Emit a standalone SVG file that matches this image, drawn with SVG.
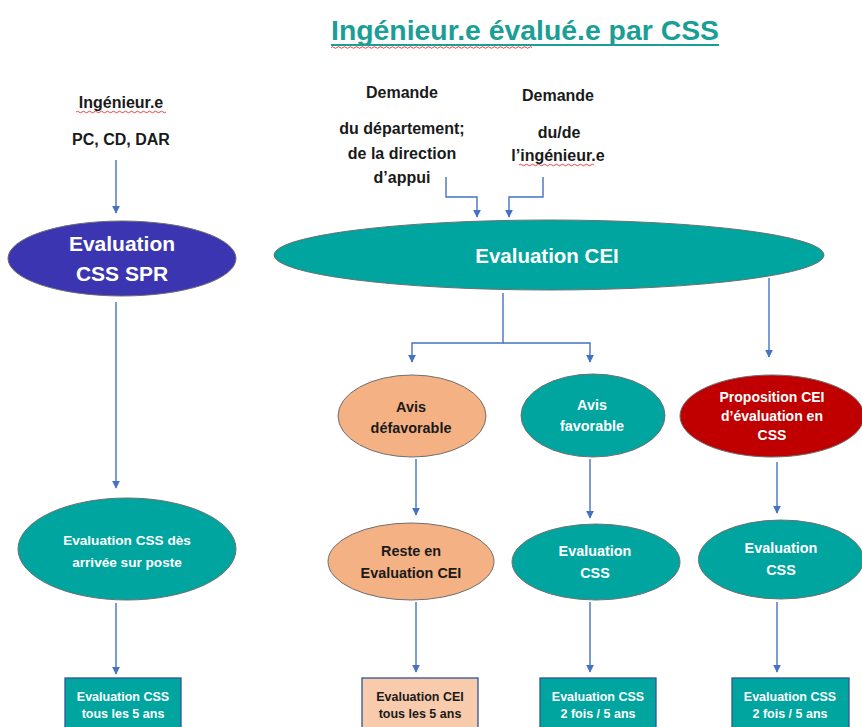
<svg xmlns="http://www.w3.org/2000/svg" width="862" height="727" viewBox="0 0 862 727">
<defs>
<style>
text{font-family:"Liberation Sans",Arial,sans-serif;font-weight:bold;text-anchor:middle}
.lbl{font-size:16px;fill:#1a1a1a}
.w{fill:#ffffff}
.d{fill:#1a1a1a}
.teal{fill:#00a59f;stroke:#6f6f6f;stroke-width:1}
.purple{fill:#3b35b2;stroke:#6f6f6f;stroke-width:1}
.orange{fill:#f4b183;stroke:#6f6f6f;stroke-width:1}
.red{fill:#c00000;stroke:#6f6f6f;stroke-width:1}
.box{stroke:#2f5597;stroke-width:1.3}
.conn path{fill:none;stroke:#4472c4;stroke-width:1.4}
.wavy{fill:none;stroke:#e03030;stroke-width:0.9}
</style>
<marker id="ah" viewBox="0 0 10 10" refX="9" refY="5" markerWidth="8" markerHeight="8" markerUnits="userSpaceOnUse" orient="auto">
<path d="M0,0 L10,5 L0,10 z" fill="#4472c4"/>
</marker>
</defs>
<rect width="862" height="727" fill="#ffffff"/>

<g id="title">
<text x="525" y="40" font-size="28" fill="#1a9e96" textLength="388" lengthAdjust="spacingAndGlyphs">Ingénieur.e évalué.e par CSS</text>
<line x1="331" y1="45" x2="719" y2="45" stroke="#1a9e96" stroke-width="2"/>
<path class="wavy" d="M331,47.5 q1.5,-1.5 3,0 t3,0 t3,0 t3,0 t3,0 t3,0 t3,0 t3,0 t3,0 t3,0 t3,0 t3,0 t3,0 t3,0 t3,0 t3,0 t3,0 t3,0 t3,0 t3,0 t3,0 t3,0 t3,0 t3,0 t3,0 t3,0 t3,0 t3,0 t3,0 t3,0 t3,0 t3,0 t3,0 t3,0 t3,0 t3,0 t3,0 t3,0 t3,0 t3,0 t3,0 t3,0 t3,0 t3,0 t3,0 t3,0 t3,0 t3,0 t3,0 t3,0 t3,0 t3,0 t3,0 t3,0 t3,0 t3,0 t3,0 t3,0 t3,0 t3,0 t3,0 t3,0 t3,0 t3,0 t3,0 t3,0 t3,0"/>
</g>

<g id="source-ingenieur">
<text class="lbl" x="121" y="108">Ingénieur.e</text>
<path class="wavy" d="M76,112 q1.5,-1.5 3,0 t3,0 t3,0 t3,0 t3,0 t3,0 t3,0 t3,0 t3,0 t3,0 t3,0 t3,0 t3,0 t3,0 t3,0 t3,0 t3,0 t3,0 t3,0 t3,0 t3,0 t3,0 t3,0 t3,0 t3,0 t3,0 t3,0 t3,0 t3,0 t3,0"/>
<text class="lbl" x="121" y="145">PC, CD, DAR</text>
</g>

<g id="source-departement">
<text class="lbl" x="402" y="98">Demande</text>
<text class="lbl" x="402" y="134">du département;</text>
<text class="lbl" x="402" y="159">de la direction</text>
<text class="lbl" x="402" y="183">d’appui</text>
</g>

<g id="source-demande-ingenieur">
<text class="lbl" x="558" y="101">Demande</text>
<text class="lbl" x="559" y="138">du/de</text>
<text class="lbl" x="558" y="161">l’ingénieur.e</text>
<path class="wavy" d="M519,165 q1.5,-1.5 3,0 t3,0 t3,0 t3,0 t3,0 t3,0 t3,0 t3,0 t3,0 t3,0 t3,0 t3,0 t3,0 t3,0 t3,0 t3,0 t3,0 t3,0 t3,0 t3,0 t3,0 t3,0 t3,0 t3,0 t3,0"/>
</g>

<g class="conn" id="connectors">
<path d="M116,160 V213" marker-end="url(#ah)"/>
<path d="M116,302 V488" marker-end="url(#ah)"/>
<path d="M116,603 V674" marker-end="url(#ah)"/>
<path d="M446,177 V197 H477 V217" marker-end="url(#ah)"/>
<path d="M543,177 V197 H509 V217" marker-end="url(#ah)"/>
<path d="M503,293 V343 H412 V362" marker-end="url(#ah)"/>
<path d="M503,343 H590 V362" marker-end="url(#ah)"/>
<path d="M769,278 V357" marker-end="url(#ah)"/>
<path d="M416,459 V515" marker-end="url(#ah)"/>
<path d="M590,459 V518" marker-end="url(#ah)"/>
<path d="M777,462 V513" marker-end="url(#ah)"/>
<path d="M416,602 V672" marker-end="url(#ah)"/>
<path d="M590,602 V672" marker-end="url(#ah)"/>
<path d="M777,602 V672" marker-end="url(#ah)"/>
</g>

<g id="eval-css-spr">
<ellipse class="purple" cx="122" cy="258.5" rx="114" ry="37.5"/>
<text class="w" x="122" y="251" font-size="21">Evaluation</text>
<text class="w" x="122" y="281" font-size="21">CSS SPR</text>
</g>

<g id="eval-cei">
<ellipse class="teal" cx="549" cy="255" rx="275" ry="35"/>
<text class="w" x="547" y="263" font-size="20.5">Evaluation CEI</text>
</g>

<g id="avis-defavorable">
<ellipse class="orange" cx="412" cy="416" rx="74" ry="41"/>
<text class="d" x="411" y="412" font-size="14.4">Avis</text>
<text class="d" x="411" y="433" font-size="14.4">défavorable</text>
</g>

<g id="avis-favorable">
<ellipse class="teal" cx="593" cy="415.5" rx="72" ry="41.5"/>
<text class="w" x="592" y="410" font-size="14.4">Avis</text>
<text class="w" x="592" y="431" font-size="14.4">favorable</text>
</g>

<g id="proposition-cei">
<ellipse class="red" cx="772" cy="416" rx="92" ry="41"/>
<text class="w" x="772" y="402" font-size="14">Proposition CEI</text>
<text class="w" x="772" y="421" font-size="14">d’évaluation en</text>
<text class="w" x="772" y="440" font-size="14">CSS</text>
</g>

<g id="eval-css-arrivee">
<ellipse class="teal" cx="127" cy="549" rx="109" ry="51"/>
<text class="w" x="127" y="545" font-size="13.6">Evaluation CSS dès</text>
<text class="w" x="127" y="567" font-size="13.6">arrivée sur poste</text>
</g>

<g id="reste-cei">
<ellipse class="orange" cx="411" cy="561.5" rx="83" ry="38.5"/>
<text class="d" x="411" y="556" font-size="14.4">Reste en</text>
<text class="d" x="411" y="578" font-size="14.4">Evaluation CEI</text>
</g>

<g id="eval-css-mid">
<ellipse class="teal" cx="596" cy="562" rx="84" ry="38"/>
<text class="w" x="595" y="556" font-size="14.4">Evaluation</text>
<text class="w" x="595" y="578" font-size="14.4">CSS</text>
</g>

<g id="eval-css-right">
<ellipse class="teal" cx="781" cy="559.5" rx="82.5" ry="39.5"/>
<text class="w" x="781" y="553" font-size="14.4">Evaluation</text>
<text class="w" x="781" y="575" font-size="14.4">CSS</text>
</g>

<g id="box-css-5ans">
<rect class="box" x="65" y="678" width="116" height="60" fill="#00a59f"/>
<text class="w" x="123" y="701" font-size="12.5">Evaluation CSS</text>
<text class="w" x="123" y="718" font-size="12.5">tous les 5 ans</text>
</g>

<g id="box-cei-5ans">
<rect class="box" x="362" y="678" width="116" height="60" fill="#f8cbad"/>
<text class="d" x="420" y="701" font-size="12.5">Evaluation CEI</text>
<text class="d" x="420" y="718" font-size="12.5">tous les 5 ans</text>
</g>

<g id="box-css-2fois-mid">
<rect class="box" x="540" y="678" width="116" height="60" fill="#00a59f"/>
<text class="w" x="598" y="701" font-size="12.5">Evaluation CSS</text>
<text class="w" x="598" y="718" font-size="12.5">2 fois / 5 ans</text>
</g>

<g id="box-css-2fois-right">
<rect class="box" x="732" y="678" width="117" height="60" fill="#00a59f"/>
<text class="w" x="790" y="701" font-size="12.5">Evaluation CSS</text>
<text class="w" x="790" y="718" font-size="12.5">2 fois / 5 ans</text>
</g>
</svg>
